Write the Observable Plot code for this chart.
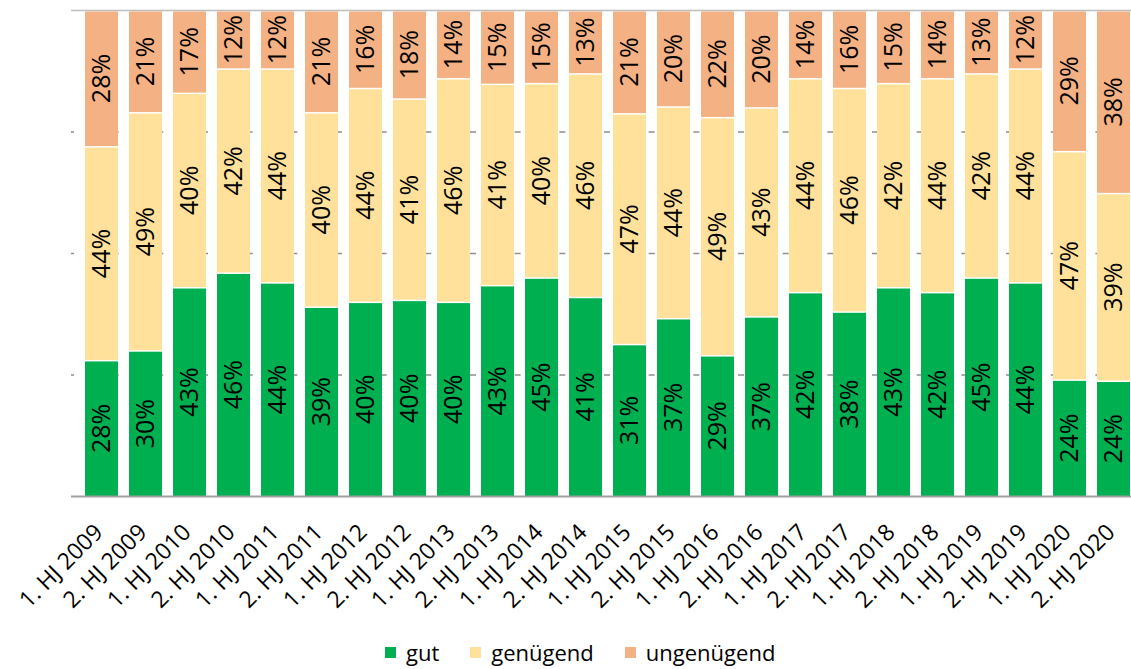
<!DOCTYPE html>
<html>
<head>
<meta charset="utf-8">
<script src="https://cdn.jsdelivr.net/npm/d3@7"></script>
<script src="https://cdn.jsdelivr.net/npm/@observablehq/plot@0.6"></script>
<style>
  html, body { margin: 0; padding: 0; background: #fff; overflow: hidden; }
  #chart svg { display: block; }
  #legend { height: 34px; display: flex; align-items: center; padding-left: 385px;
    font-family: "Open Sans", sans-serif; font-size: 22px; color: #000; }
  .item { display: flex; align-items: center; margin-right: 31px; }
  .sw { width: 11px; height: 11px; margin-right: 10px; }
</style>
</head>
<body>
<div id="chart"></div>
<div id="legend"></div>
<script>
const periods = ["1. HJ 2009","2. HJ 2009","1. HJ 2010","2. HJ 2010","1. HJ 2011","2. HJ 2011",
  "1. HJ 2012","2. HJ 2012","1. HJ 2013","2. HJ 2013","1. HJ 2014","2. HJ 2014",
  "1. HJ 2015","2. HJ 2015","1. HJ 2016","2. HJ 2016","1. HJ 2017","2. HJ 2017",
  "1. HJ 2018","2. HJ 2018","1. HJ 2019","2. HJ 2019","1. HJ 2020","2. HJ 2020"];
const gut        = [28,30,43,46,44,39,40,40,40,43,45,41,31,37,29,37,42,38,43,42,45,44,24,24];
const genuegend  = [44,49,40,42,44,40,44,41,46,41,40,46,47,44,49,43,44,46,42,44,42,44,47,39];
const ungenuegend= [28,21,17,12,12,21,16,18,14,15,15,13,21,20,22,20,14,16,15,14,13,12,29,38];
const categories = ["gut","genügend","ungenügend"];
const colors = ["#00b050","#ffe19b","#f4b183"];
const gridTicks = [0.25, 0.5, 0.75];

const series = [gut, genuegend, ungenuegend];
const data = [];
periods.forEach((p, i) => {
  categories.forEach((c, j) => data.push({period: p, category: c, value: series[j][i]}));
});

const step = (1143 - 71) / periods.length;

const chart = Plot.plot({
  width: 1131,
  height: 635,
  marginLeft: 71,
  marginRight: 0,
  marginTop: 10,
  marginBottom: 139,
  style: {fontFamily: "'Open Sans', sans-serif", fontSize: "22px", color: "#000", background: "#fff"},
  x: {domain: periods, range: [71, 1143], paddingInner: 0.26, paddingOuter: 0.13, label: null},
  y: {domain: [0, 1], range: [496, 10], axis: null},
  color: {domain: categories, range: colors},
  marks: [
    Plot.ruleY(gridTicks, {stroke: "#8f8f8f", strokeWidth: 1.5,
      strokeDasharray: `6,${step - 6}`, strokeDashoffset: 3}),
    Plot.ruleY([1], {stroke: "#bdbdbd", strokeWidth: 1.5}),
    Plot.barY(data, Plot.stackY({offset: "normalize", x: "period", y: "value", z: "category",
      fill: "category", insetTop: 1.5})),
    Plot.text(data, Plot.stackY({offset: "normalize", x: "period", y: "value", z: "category",
      text: d => d.value + "%", rotate: -90, fontSize: 25, fill: "#000"})),
    Plot.axisX({tickRotate: -45, tickSize: 0, tickPadding: 32, dx: -3, fontSize: 23,
      label: null, fill: "#000"}),
    Plot.ruleY([0], {stroke: "#a0a0a0", strokeWidth: 2})
  ]
});
document.getElementById("chart").appendChild(chart);

const legend = document.getElementById("legend");
categories.forEach((c, j) => {
  const item = document.createElement("div");
  item.className = "item";
  const sw = document.createElement("div");
  sw.className = "sw";
  sw.style.background = colors[j];
  const label = document.createElement("span");
  label.textContent = c;
  item.appendChild(sw);
  item.appendChild(label);
  legend.appendChild(item);
});
</script>
</body>
</html>
